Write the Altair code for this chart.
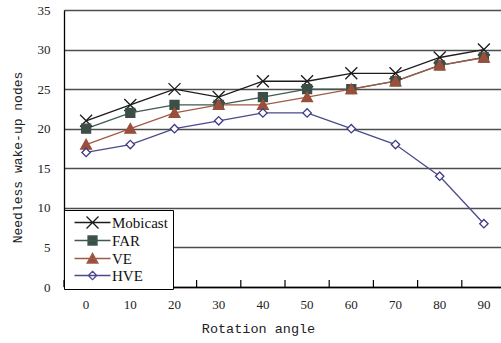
import altair as alt
import pandas as pd

# Rotation angles (x categories) and the four series
angles = [0, 10, 20, 30, 40, 50, 60, 70, 80, 90]
series_names = ["Mobicast", "FAR", "VE", "HVE"]
mobicast = [21, 23, 25, 24, 26, 26, 27, 27, 29, 30]
far = [20, 22, 23, 23, 24, 25, 25, 26, 28, 29]
ve = [18, 20, 22, 23, 23, 24, 25, 26, 28, 29]
hve = [17, 18, 20, 21, 22, 22, 20, 18, 14, 8]
y_ticks = [0, 5, 10, 15, 20, 25, 30, 35]

line_colors = ["#1c1c1c", "#3f5a50", "#a05a48", "#4a4a8c"]
marker_fills = ["#ffffff", "#3b4f47", "#9a4f3a", "#ffffff"]
marker_strokes = ["#1c1c1c", "#3b4f47", "#9a4f3a", "#3d3a85"]


def x_mark(cx):
    return f"M{cx-1},-1L{cx+1},1M{cx-1},1L{cx+1},-1"


def square_mark(cx):
    return f"M{cx-0.75},-0.75H{cx+0.75}V0.75H{cx-0.75}Z"


def triangle_mark(cx):
    return f"M{cx},-0.85L{cx+0.9},0.75L{cx-0.9},0.75Z"


def diamond_mark(cx):
    return f"M{cx},-0.7L{cx+0.7},0L{cx},0.7L{cx-0.7},0Z"


makers = [x_mark, square_mark, triangle_mark, diamond_mark]
marker_paths = [m(0) for m in makers]

# legend glyph: a short line segment with the marker in its middle
seg = "M-0.33,0H5.67"
legend_paths = [seg + m(2.67) for m in makers]

rows = []
for name, vals in zip(series_names, [mobicast, far, ve, hve]):
    for a, v in zip(angles, vals):
        rows.append({"angle": a, "value": v, "series": name})
df = pd.DataFrame(rows)

W, H = 437, 277
TXT = "Liberation Serif"
MONO = "Liberation Mono"

x_enc = alt.X(
    "angle:O",
    bandPosition=0.5,
    scale=alt.Scale(type="band", domain=angles, range=[0, 442],
                    paddingInner=0, paddingOuter=0),
    axis=alt.Axis(
        title="Rotation angle", ticks=False, grid=False, labelAngle=0,
        domainColor="#000000", domainWidth=1.3,
        labelFont=TXT, labelFontSize=13, labelColor="#222222", labelPadding=11,
        titleFont=MONO, titleFontSize=13.5, titleFontWeight="normal",
        titleColor="#222222", titlePadding=10, titleX=194, titleAnchor="middle",
    ),
)
y_enc = alt.Y(
    "value:Q",
    scale=alt.Scale(domain=[0, 35], nice=False, zero=True),
    axis=alt.Axis(
        title="Needless wake-up nodes", values=y_ticks, ticks=False,
        grid=True, gridColor="#4d4d4d", gridWidth=1.3,
        domainColor="#000000", domainWidth=1.3,
        labelFont=TXT, labelFontSize=13, labelColor="#222222", labelPadding=14,
        titleFont=MONO, titleFontSize=13, titleFontWeight="normal",
        titleColor="#222222", titlePadding=13, titleY=147,
    ),
)

legend_box = alt.Legend(
    title=None, orient="none", legendX=0, legendY=200,
    strokeColor="#000000", fillColor="#ffffff", padding=5, cornerRadius=0,
    labelFont=TXT, labelFontSize=15, labelColor="#111111", labelOffset=28,
    rowPadding=1, symbolSize=144, symbolStrokeWidth=1.3, symbolOpacity=1,
)

base = alt.Chart(df)

lines = base.mark_line(strokeWidth=1.3).encode(
    x=x_enc, y=y_enc,
    color=alt.Color("series:N", sort=series_names,
                    scale=alt.Scale(domain=series_names, range=line_colors),
                    legend=None),
)

points = base.mark_point(size=144, strokeWidth=1.3, opacity=1, filled=False).encode(
    x=x_enc, y=y_enc,
    shape=alt.Shape("series:N", scale=alt.Scale(domain=series_names, range=marker_paths), legend=None),
    fill=alt.Fill("series:N", scale=alt.Scale(domain=series_names, range=marker_fills), legend=None),
    stroke=alt.Stroke("series:N", scale=alt.Scale(domain=series_names, range=marker_strokes), legend=None),
)

legend_layer = base.mark_point(size=144, strokeWidth=1.3, opacity=0).encode(
    x=x_enc, y=y_enc,
    shape=alt.Shape("series:N", sort=series_names,
                    scale=alt.Scale(domain=series_names, range=legend_paths), legend=legend_box),
    fill=alt.Fill("series:N", sort=series_names,
                  scale=alt.Scale(domain=series_names, range=marker_fills), legend=legend_box),
    stroke=alt.Stroke("series:N", sort=series_names,
                      scale=alt.Scale(domain=series_names, range=line_colors), legend=legend_box),
)

# short upward ticks on the x axis at the category boundaries
ticks = alt.Chart(pd.DataFrame({"angle": angles})).mark_rule(
    color="#000000", strokeWidth=1.2
).encode(
    x=alt.X("angle:O", bandPosition=0,
            scale=alt.Scale(type="band", domain=angles, range=[0, 442],
                            paddingInner=0, paddingOuter=0)),
    y=alt.value(H - 7),
    y2=alt.value(H),
)

chart = (
    alt.layer(lines, points, ticks, legend_layer)
    .resolve_scale(shape="independent", fill="independent", stroke="independent")
    .properties(
        width=W, height=H,
        autosize=alt.AutoSizeParams(type="none"),
        padding={"left": 64, "top": 10, "right": 0, "bottom": 56},
    )
    .configure_view(stroke=None)
    .configure(background="#ffffff")
)

chart.save("out.html", embed_options={"renderer": "svg", "actions": False})
